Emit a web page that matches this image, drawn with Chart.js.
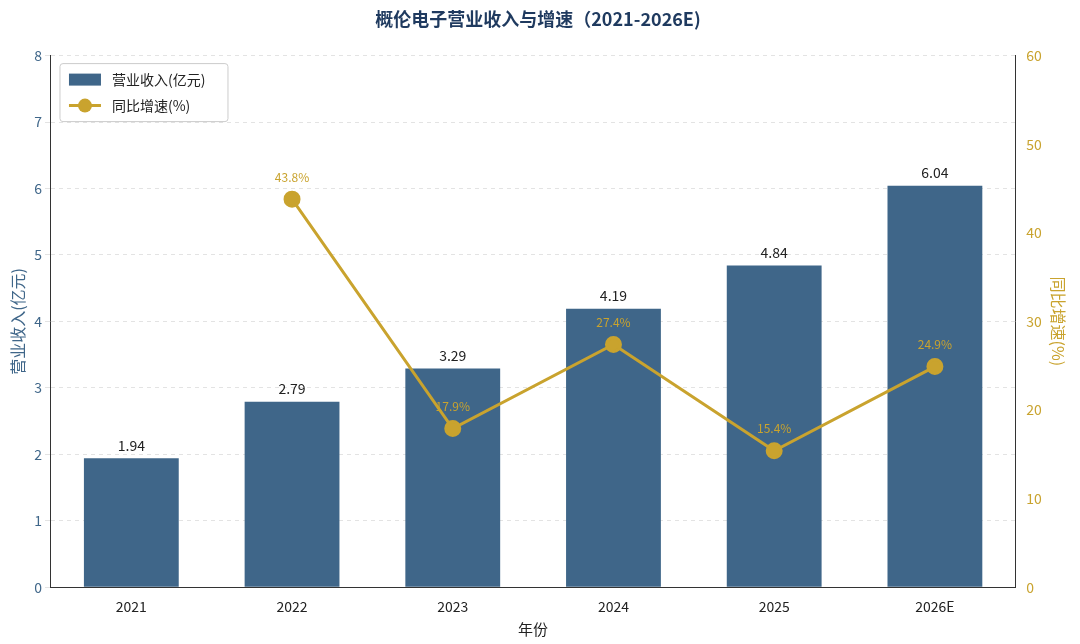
<!DOCTYPE html>
<html><head><meta charset="utf-8">
<script src="https://cdn.jsdelivr.net/npm/chart.js@4"></script>
<style>body{margin:0;background:#fff}#wrap{width:1080px;height:644px}</style>
</head><body><div id="wrap"><canvas id="c"></canvas></div>
<script>
const years = ["2021", "2022", "2023", "2024", "2025", "2026E"];
const revenue = [1.94, 2.79, 3.29, 4.19, 4.84, 6.04];
const growth = [null, 43.8, 17.9, 27.4, 15.4, 24.9];

const barColor = "#3f6689";
const lineColor = "#c9a32e";
const font = "'Noto Sans CJK SC','Noto Sans',sans-serif";

// value labels + legend drawn by hand
const labelPlugin = {
  id: "labels",
  afterDatasetsDraw(chart) {
    const g = chart.ctx;
    g.save();
    g.textAlign = "center";
    g.textBaseline = "bottom";
    chart.getDatasetMeta(0).data.forEach((b, i) => {
      g.font = "14px " + font;
      g.fillStyle = "#222";
      g.fillText(revenue[i].toFixed(2), b.x, b.y - 6);
    });
    chart.getDatasetMeta(1).data.forEach((p, i) => {
      if (growth[i] == null) return;
      g.font = "12px " + font;
      g.fillStyle = lineColor;
      g.fillText(growth[i].toFixed(1) + "%", p.x, p.y - 16);
    });
    // legend
    const a = chart.chartArea;
    const x = a.left + 9, y = a.top + 8;
    g.fillStyle = "rgba(255,255,255,0.9)";
    g.strokeStyle = "#ccc";
    g.lineWidth = 1;
    g.beginPath();
    g.roundRect(x, y, 168, 58, 3);
    g.fill(); g.stroke();
    g.fillStyle = barColor;
    g.fillRect(x + 9, y + 10, 32, 12);
    g.strokeStyle = lineColor;
    g.lineWidth = 3;
    g.beginPath(); g.moveTo(x + 9, y + 42); g.lineTo(x + 41, y + 42); g.stroke();
    g.fillStyle = lineColor;
    g.beginPath(); g.arc(x + 25, y + 42, 7, 0, Math.PI * 2); g.fill();
    g.fillStyle = "#222";
    g.font = "14px " + font;
    g.textAlign = "left";
    g.textBaseline = "middle";
    g.fillText("营业收入(亿元)", x + 52, y + 16);
    g.fillText("同比增速(%)", x + 52, y + 42);
    g.restore();
  }
};

new Chart(document.getElementById("c"), {
  data: {
    labels: years,
    datasets: [
      { type: "bar", label: "营业收入(亿元)", data: revenue, backgroundColor: barColor,
        barPercentage: 0.59, categoryPercentage: 1, yAxisID: "y", order: 2 },
      { type: "line", label: "同比增速(%)", data: growth, borderColor: lineColor,
        backgroundColor: lineColor, borderWidth: 3, pointRadius: 7, pointHoverRadius: 7,
        yAxisID: "y1", order: 1 }
    ]
  },
  options: {
    responsive: true, maintainAspectRatio: false, animation: false,
    layout: { padding: { left: 4, right: 8, top: 0, bottom: 4 } },
    plugins: {
      legend: { display: false },
      tooltip: { enabled: false },
      title: { display: true, text: "概伦电子营业收入与增速（2021-2026E)", color: "#1f3a5f",
        font: { family: font, size: 18, weight: "bold" }, padding: { top: 8, bottom: 26 } }
    },
    scales: {
      x: {
        grid: { display: false },
        border: { color: "#333" },
        ticks: { color: "#222", font: { family: font, size: 14 } },
        title: { display: true, text: "年份", color: "#222", font: { family: font, size: 15 }, padding: 2 }
      },
      y: {
        position: "left", min: 0, max: 8,
        ticks: { stepSize: 1, color: barColor, font: { family: font, size: 14 } },
        grid: { color: "#e3e3e3", borderDash: [4, 4], tickLength: 6 },
        border: { color: "#333", dash: [4, 4] },
        title: { display: true, text: "营业收入(亿元)", color: barColor, font: { family: font, size: 16 } }
      },
      y1: {
        position: "right", min: 0, max: 60,
        ticks: { stepSize: 10, color: lineColor, font: { family: font, size: 14 } },
        grid: { display: false },
        border: { color: "#333" },
        title: { display: true, text: "同比增速(%)", color: lineColor, font: { family: font, size: 16 } }
      }
    }
  },
  plugins: [labelPlugin]
});
</script></body></html>
